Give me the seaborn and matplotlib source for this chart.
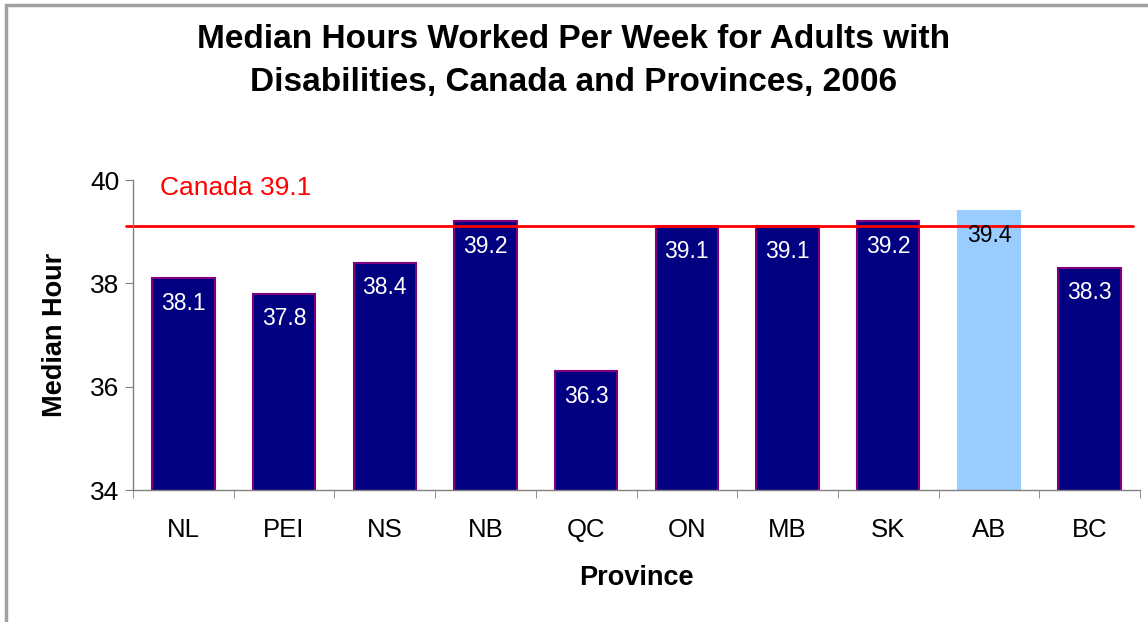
#median hours worked per week, adults with disabilities (2006)

import matplotlib.pyplot as plt
import matplotlib.patches as patches
import pandas as pd
import seaborn as sea

#chart data
provinces = ['NL', 'PEI', 'NS', 'NB', 'QC', 'ON', 'MB', 'SK', 'AB', 'BC']
median_hours = [38.1, 37.8, 38.4, 39.2, 36.3, 39.1, 39.1, 39.2, 39.4, 38.3]
canada_value = 39.1
highlight = 'AB'

df = pd.DataFrame({'Province': provinces, 'Hours': median_hours})

sea.set_style('white')
plt.rcParams['font.family'] = ['Liberation Sans', 'DejaVu Sans']
plt.rcParams['text.color'] = 'black'
plt.rcParams['axes.labelcolor'] = 'black'
plt.rcParams['xtick.color'] = 'black'
plt.rcParams['ytick.color'] = 'black'

fig = plt.figure(figsize=(11.48, 6.22), dpi=100)
ax = fig.add_axes([133 / 1148, 1 - 490 / 622, 1007 / 1148, 310 / 622])

#grey frame round the chart area
fig.patches.append(patches.Rectangle((6 / 1148, -0.05), 1.2, 1 - 5 / 622 + 0.05,
                                     transform=fig.transFigure, fill=False,
                                     edgecolor='#a0a0a0', linewidth=2.5))

colors = ['#99CCFF' if p == highlight else '#000080' for p in provinces]
edges = ['#99CCFF' if p == highlight else '#800080' for p in provinces]
sea.barplot(x='Province', y='Hours', data=df, hue='Province', palette=colors,
            saturation=1, legend=False, width=0.62, ax=ax, bottom=0)
for bar, ec in zip(ax.patches, edges):
    bar.set_edgecolor(ec)
    bar.set_linewidth(1.5)

#value labels inside the bars
for i, (p, v) in enumerate(zip(provinces, median_hours)):
    txt_color = 'black' if p == highlight else 'white'
    ax.text(i, v - 0.26, f'{v:.1f}', ha='center', va='top', fontsize=16.5, color=txt_color)

#Canada reference line
ax.plot([-0.57, 9.43], [canada_value, canada_value], color='red', linewidth=2, clip_on=False)
ax.text(-0.23, 39.85, f'Canada {canada_value}', color='red', fontsize=19,
        ha='left', va='center')

ax.set_ylim(34, 40)
ax.set_xlim(-0.5, 9.5)
ax.set_yticks([34, 36, 38, 40])
ax.set_xticks([i - 0.5 for i in range(11)], minor=True)
ax.set_xticks(range(10))
ax.set_xticklabels(provinces)
ax.tick_params(axis='x', which='major', length=0, pad=20, labelsize=18.5)
ax.tick_params(axis='x', which='minor', length=5.8, color='#808080', direction='out', bottom=True)
ax.tick_params(axis='y', length=5.8, color='#808080', direction='out', labelsize=19, pad=4,
               left=True)

for side in ['top', 'right']:
    ax.spines[side].set_visible(False)
for side in ['left', 'bottom']:
    ax.spines[side].set_color('#808080')
    ax.spines[side].set_linewidth(1)

ax.set_xlabel('Province', fontsize=19.5, fontweight='bold', labelpad=17)
ax.set_ylabel('Median Hour', fontsize=19.5, fontweight='bold', labelpad=16)

fig.text(0.5, 1 - 61 / 622, 'Median Hours Worked Per Week for Adults with\nDisabilities, Canada and Provinces, 2006',
         ha='center', va='center', fontsize=24, fontweight='bold', linespacing=1.5)

fig.savefig('out.png', dpi=100)
